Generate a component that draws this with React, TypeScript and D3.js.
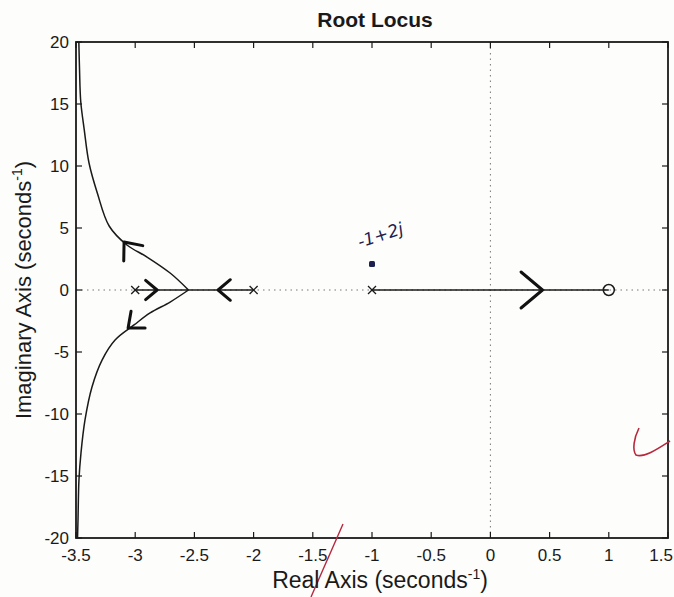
import React from "react";
import * as d3 from "d3";

// poles / zeros of the open loop
const poles = [-3, -2, -1];
const zeros = [1];

// tick values
const xTicks = [-3.5, -3, -2.5, -2, -1.5, -1, -0.5, 0, 0.5, 1, 1.5];
const yTicks = [-20, -15, -10, -5, 0, 5, 10, 15, 20];
const xTickLabels = ["-3.5", "-3", "-2.5", "-2", "-1.5", "-1", "-0.5", "0", "0.5", "1", "1.5"];

// real-axis parts of the locus [from, to]
const realSegments: [number, number][] = [
  [-3, -2],
  [-1, 1],
];

// complex branches [re, im]
const upperBranch: [number, number][] = [
  [-2.55, 0],
  [-2.705, 1.37],
  [-2.9, 2.66],
  [-3.07, 3.63],
  [-3.22, 5.16],
  [-3.32, 7.82],
  [-3.39, 10.24],
  [-3.43, 12.9],
  [-3.46, 15.2],
  [-3.47, 17.7],
  [-3.476, 20],
];
const lowerBranch: [number, number][] = [
  [-2.55, 0],
  [-2.705, -0.97],
  [-2.874, -1.85],
  [-3.01, -2.82],
  [-3.17, -4.03],
  [-3.28, -5.65],
  [-3.365, -7.82],
  [-3.424, -10.48],
  [-3.458, -13.15],
  [-3.475, -15.3],
  [-3.483, -18.5],
  [-3.487, -20],
];

// hand drawn arrow heads on the print: tip [re, im], heading (deg, screen)
const arrowTips: [number, number][] = [[-2.815, 0], [-2.3, 0], [0.44, 0], [-3.094, 3.87], [-3.06, -3.06]];
const arrowHeading = [0, 180, 0, -129, 140];
const arrowSize = [15, 16, 28, 19, 17];

// hand written point
const markedPoint: [number, number] = [-1, 2.1];
const markedLabel = "-1+2j";

const W = 674;
const H = 597;
const font = "'Liberation Sans', Arial, Helvetica, sans-serif";

function Arrow({ tx, ty, heading, size }: { tx: number; ty: number; heading: number; size: number }) {
  const spread = 40;
  const back = heading + 180;
  const a1 = ((back - spread) * Math.PI) / 180;
  const a2 = ((back + spread) * Math.PI) / 180;
  const p = d3.path();
  p.moveTo(tx + size * Math.cos(a1), ty + size * Math.sin(a1));
  p.lineTo(tx, ty);
  p.lineTo(tx + size * Math.cos(a2), ty + size * Math.sin(a2));
  return <path d={p.toString()} fill="none" stroke="#111" strokeWidth={3} strokeLinecap="round" strokeLinejoin="round" />;
}

export default function App() {
  const x = d3.scaleLinear().domain([-3.5, 1.5]).range([76, 668]);
  const y = d3.scaleLinear().domain([-20, 20]).range([538, 42]);
  const [x0, x1] = x.range();
  const [y0, y1] = y.range();

  const line = d3
    .line<[number, number]>()
    .x((d) => x(d[0]))
    .y((d) => y(d[1]))
    .curve(d3.curveCatmullRom.alpha(0.5));

  const tick = 6;
  const ink = "#1a1a1a";
  const last = xTicks.length - 1;

  return (
    <svg width={W} height={H} style={{ position: "absolute", left: 0, top: 0, background: "#fff" }} fontFamily={font}>
      <rect width={W} height={H} fill="#fdfdfc" />

      {/* dotted zero lines */}
      <line x1={x0} x2={x1} y1={y(0)} y2={y(0)} stroke="#777" strokeWidth={1} strokeDasharray="1.5,4" />
      <line x1={x(0)} x2={x(0)} y1={y1} y2={y0} stroke="#777" strokeWidth={1} strokeDasharray="1.5,4" />

      {/* axes box */}
      <rect x={x0} y={y1} width={x1 - x0} height={y0 - y1} fill="none" stroke={ink} strokeWidth={1.8} />

      {/* ticks */}
      {xTicks.map((t) => (
        <g key={"xt" + t}>
          <line x1={x(t)} x2={x(t)} y1={y0} y2={y0 - tick} stroke={ink} strokeWidth={1.2} />
          <line x1={x(t)} x2={x(t)} y1={y1} y2={y1 + tick} stroke={ink} strokeWidth={1.2} />
        </g>
      ))}
      {yTicks.map((t) => (
        <g key={"yt" + t}>
          <line x1={x0} x2={x0 + tick} y1={y(t)} y2={y(t)} stroke={ink} strokeWidth={1.2} />
          <line x1={x1} x2={x1 - tick} y1={y(t)} y2={y(t)} stroke={ink} strokeWidth={1.2} />
        </g>
      ))}

      {/* tick labels */}
      {xTicks.map((t, i) => (
        <text
          key={"xl" + t}
          x={i === last ? W - 1 : x(t)}
          y={561}
          textAnchor={i === last ? "end" : "middle"}
          fontSize={17}
          fill={ink}
        >
          {xTickLabels[i]}
        </text>
      ))}
      {yTicks.map((t) => (
        <text key={"yl" + t} x={69} y={y(t) + 6} textAnchor="end" fontSize={17} fill={ink}>
          {t}
        </text>
      ))}

      {/* locus on the real axis */}
      {realSegments.map(([a, b]) => (
        <line key={"rs" + a} x1={x(a)} x2={x(b)} y1={y(0)} y2={y(0)} stroke={ink} strokeWidth={1.5} />
      ))}

      {/* complex branches */}
      <path d={line(upperBranch) ?? ""} fill="none" stroke={ink} strokeWidth={1.5} />
      <path d={line(lowerBranch) ?? ""} fill="none" stroke={ink} strokeWidth={1.5} />

      {/* poles */}
      {poles.map((p) => (
        <g key={"p" + p} stroke={ink} strokeWidth={1.3}>
          <line x1={x(p) - 4} x2={x(p) + 4} y1={y(0) - 4} y2={y(0) + 4} />
          <line x1={x(p) - 4} x2={x(p) + 4} y1={y(0) + 4} y2={y(0) - 4} />
        </g>
      ))}
      {/* zeros */}
      {zeros.map((z) => (
        <circle key={"z" + z} cx={x(z)} cy={y(0)} r={5.5} fill="none" stroke={ink} strokeWidth={1.5} />
      ))}

      {/* hand drawn arrows */}
      {arrowTips.map(([re, im], i) => (
        <Arrow key={"a" + i} tx={x(re)} ty={y(im)} heading={arrowHeading[i]} size={arrowSize[i]} />
      ))}

      {/* hand written point */}
      <rect x={x(markedPoint[0]) - 3} y={y(markedPoint[1]) - 3} width={6} height={6} rx={1.5} fill="#1c2150" />
      <text
        x={x(markedPoint[0]) - 12}
        y={y(markedPoint[1]) - 16}
        fontSize={17}
        fill="#1c2150"
        fontFamily="'DejaVu Sans', sans-serif"
        fontStyle="italic"
        transform={`rotate(-18 ${x(markedPoint[0]) - 12} ${y(markedPoint[1]) - 16})`}
      >
        {markedLabel}
      </text>

      {/* red pen marks */}
      <path d="M639,428 C634,438 632,450 636,455 C644,458 656,450 670,441" fill="none" stroke="#b8283c" strokeWidth={1.6} />
      <line x1={343} y1={524} x2={311} y2={597} stroke="#b8283c" strokeWidth={1.4} />

      {/* title and labels */}
      <text x={375} y={27} textAnchor="middle" fontSize={21} fontWeight="bold" fill={ink}>
        Root Locus
      </text>
      <text x={380} y={588} textAnchor="middle" fontSize={23} fill={ink}>
        Real Axis (seconds
        <tspan fontSize={14} dy={-9}>-1</tspan>
        <tspan dy={9}>)</tspan>
      </text>
      <text x={31} y={290} textAnchor="middle" fontSize={22} fill={ink} transform="rotate(-90 31 290)">
        Imaginary Axis (seconds
        <tspan fontSize={14} dy={-9}>-1</tspan>
        <tspan dy={9}>)</tspan>
      </text>
    </svg>
  );
}
